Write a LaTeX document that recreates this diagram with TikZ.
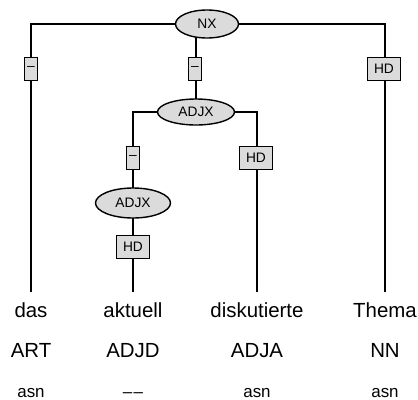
\documentclass[tikz,border=0pt]{standalone}
\usepackage{fontspec}
\setmainfont{Liberation Sans}
\usetikzlibrary{shapes.geometric,backgrounds}
\tikzset{
  edge/.style={line width=1.4bp, black},
  cat/.style={ellipse, draw, line width=1.4bp, fill=gray!28, inner sep=0pt,
              font=\fontsize{13.8}{16}\selectfont},
  lbl/.style={rectangle, draw, line width=1.4bp, fill=gray!28, inner sep=0pt,
              minimum height=23bp, font=\fontsize{13.8}{16}\selectfont},
  hdbox/.style={lbl, minimum width=33bp},
  dashbox/.style={lbl, minimum width=13bp},
  word/.style={anchor=base, inner sep=0pt, font=\fontsize{20.5}{24}\selectfont},
  morph/.style={anchor=base, inner sep=0pt, font=\fontsize{17}{20}\selectfont}
}
\begin{document}
\begin{tikzpicture}[x=1bp,y=-1bp]
\useasboundingbox (0,0) rectangle (418,400);
% category nodes
\node[cat, minimum width=63bp, minimum height=28bp] (NX) at (207,24) {NX};
\node[cat, minimum width=77bp, minimum height=26bp] (AJ1) at (196,112) {ADJX};
\node[cat, minimum width=75bp, minimum height=30bp] (AJ2) at (133,203) {ADJX};
% edge labels
\node[dashbox] (l1) at (31,69) {–};
\node[dashbox] (l2) at (195,69) {–};
\node[hdbox] (l3) at (384,69) {HD};
\node[dashbox] (l4) at (133,158) {–};
\node[hdbox] (l5) at (256,158) {HD};
\node[hdbox] (l6) at (133,247) {HD};
% leaf tops
\coordinate (t1) at (31,292);
\coordinate (t2) at (133,292);
\coordinate (t3) at (257,292);
\coordinate (t4) at (385,292);
% words
\node[word] (w1) at (31,317) {das};
\node[word] (w2) at (133,317) {aktuell};
\node[word] (w3) at (257,317) {diskutierte};
\node[word] (w4) at (385,317) {Thema};
\node[word] (p1) at (31,357) {ART};
\node[word] (p2) at (133,357) {ADJD};
\node[word] (p3) at (257,357) {ADJA};
\node[word] (p4) at (385,357) {NN};
\node[morph] (m1) at (31,397) {asn};
\node[morph] (m2) at (133,397) {–\kern1.5bp–};
\node[morph] (m3) at (257,397) {asn};
\node[morph] (m4) at (385,397) {asn};
% connectors
\begin{scope}[on background layer]
\draw[edge] (NX.center) -| (t1);
\draw[edge] (NX.center) -| (t4);
\draw[edge] (AJ1.center) -- (AJ1.center |- NX.center);
\draw[edge] (AJ2.center) |- (AJ1.center);
\draw[edge] (AJ1.center) -| (t3);
\draw[edge] (AJ2.center) -- (t2);
\end{scope}
\end{tikzpicture}
\end{document}
